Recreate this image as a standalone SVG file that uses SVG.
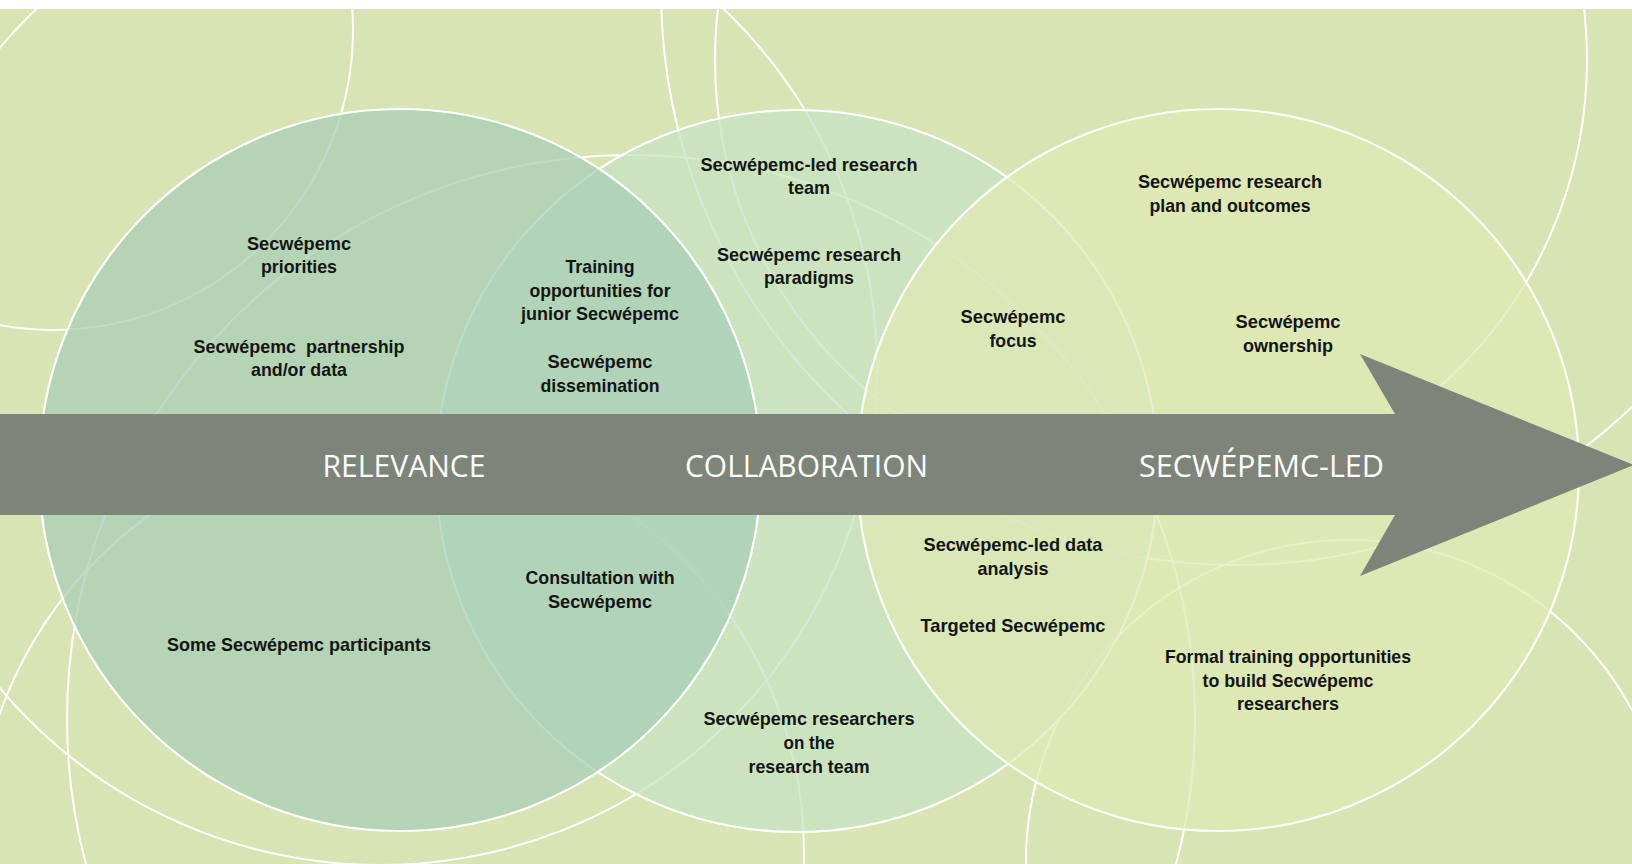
<svg xmlns="http://www.w3.org/2000/svg" width="1632" height="864" viewBox="0 0 1632 864">
<defs>
<style>
.ring{fill:none;stroke:#ffffff;stroke-width:2}
.main{stroke:#ffffff;stroke-width:2.2}
.t{font-family:"Liberation Sans",Arial,sans-serif;font-weight:700;font-size:19px;fill:#141414;text-anchor:middle}
.lab{font-family:"Open Sans","Liberation Sans",sans-serif;font-size:31px;fill:#ffffff;text-anchor:middle}
</style>
</defs>
<rect x="0" y="0" width="1632" height="864" fill="#d8e4b3"/>
<g id="background-rings">
<circle class="ring" cx="53" cy="30" r="300"/>
<circle class="ring" cx="380" cy="368" r="497"/>
<circle class="ring" cx="631" cy="719" r="564"/>
<circle class="ring" cx="390" cy="852" r="414"/>
<circle class="ring" cx="1236" cy="-10" r="575"/>
<circle class="ring" cx="1151" cy="60" r="436"/>
<circle class="ring" cx="1348" cy="862" r="322"/>
</g>
<g id="collaboration">
<circle class="main" cx="797" cy="471" r="361" fill="#c8e3c4" fill-opacity="0.75"/>
</g>
<g id="relevance">
<circle class="main" cx="400" cy="470" r="361" fill="#a8cfb6" fill-opacity="0.75"/>
</g>
<g id="secwepemc-led">
<circle class="main" cx="1218" cy="470" r="361" fill="#dfe9b4" fill-opacity="0.75" stroke-opacity="0.9"/>
</g>
<g id="connectors">
<polygon points="0,414 1395,414 1360,354 1634,465 1360,576 1395,515 0,515" fill="#7e8479"/>
</g>
<g id="stage-labels">
<text class="lab" x="404" y="477" textLength="163" lengthAdjust="spacingAndGlyphs">RELEVANCE</text>
<text class="lab" x="806.5" y="477" textLength="243" lengthAdjust="spacingAndGlyphs">COLLABORATION</text>
<text class="lab" x="1261.5" y="477" textLength="245" lengthAdjust="spacingAndGlyphs">SECWÉPEMC-LED</text>
</g>
<g id="n-priorities"><text class="t" x="299" y="250" textLength="104" lengthAdjust="spacingAndGlyphs">Secwépemc</text><text class="t" x="299" y="273" textLength="76" lengthAdjust="spacingAndGlyphs">priorities</text></g>
<g id="n-partnership"><text class="t" x="299" y="353" style="white-space:pre" textLength="211" lengthAdjust="spacingAndGlyphs">Secwépemc  partnership</text><text class="t" x="299" y="376" textLength="96" lengthAdjust="spacingAndGlyphs">and/or data</text></g>
<g id="n-training"><text class="t" x="600" y="273" textLength="69" lengthAdjust="spacingAndGlyphs">Training</text><text class="t" x="600" y="297" textLength="141" lengthAdjust="spacingAndGlyphs">opportunities for</text><text class="t" x="600" y="320" textLength="158" lengthAdjust="spacingAndGlyphs">junior Secwépemc</text></g>
<g id="n-dissemination"><text class="t" x="600" y="368" textLength="105" lengthAdjust="spacingAndGlyphs">Secwépemc</text><text class="t" x="600" y="392" textLength="119" lengthAdjust="spacingAndGlyphs">dissemination</text></g>
<g id="n-participants"><text class="t" x="299" y="651" textLength="264" lengthAdjust="spacingAndGlyphs">Some Secwépemc participants</text></g>
<g id="n-consultation"><text class="t" x="600" y="584" textLength="149" lengthAdjust="spacingAndGlyphs">Consultation with</text><text class="t" x="600" y="608" textLength="104" lengthAdjust="spacingAndGlyphs">Secwépemc</text></g>
<g id="n-led-team"><text class="t" x="809" y="171" textLength="217" lengthAdjust="spacingAndGlyphs">Secwépemc-led research</text><text class="t" x="809" y="194" textLength="42" lengthAdjust="spacingAndGlyphs">team</text></g>
<g id="n-paradigms"><text class="t" x="809" y="261" textLength="184" lengthAdjust="spacingAndGlyphs">Secwépemc research</text><text class="t" x="809" y="284" textLength="90" lengthAdjust="spacingAndGlyphs">paradigms</text></g>
<g id="n-researchers"><text class="t" x="809" y="725" textLength="211" lengthAdjust="spacingAndGlyphs">Secwépemc researchers</text><text class="t" x="809" y="749" textLength="51" lengthAdjust="spacingAndGlyphs">on the</text><text class="t" x="809" y="773" textLength="121" lengthAdjust="spacingAndGlyphs">research team</text></g>
<g id="n-plan"><text class="t" x="1230" y="188" textLength="184" lengthAdjust="spacingAndGlyphs">Secwépemc research</text><text class="t" x="1230" y="212" textLength="161" lengthAdjust="spacingAndGlyphs">plan and outcomes</text></g>
<g id="n-focus"><text class="t" x="1013" y="323" textLength="105" lengthAdjust="spacingAndGlyphs">Secwépemc</text><text class="t" x="1013" y="347" textLength="47" lengthAdjust="spacingAndGlyphs">focus</text></g>
<g id="n-ownership"><text class="t" x="1288" y="328" textLength="105" lengthAdjust="spacingAndGlyphs">Secwépemc</text><text class="t" x="1288" y="352" textLength="90" lengthAdjust="spacingAndGlyphs">ownership</text></g>
<g id="n-data"><text class="t" x="1013" y="551" textLength="179" lengthAdjust="spacingAndGlyphs">Secwépemc-led data</text><text class="t" x="1013" y="575" textLength="71" lengthAdjust="spacingAndGlyphs">analysis</text></g>
<g id="n-targeted"><text class="t" x="1013" y="632" textLength="185" lengthAdjust="spacingAndGlyphs">Targeted Secwépemc</text></g>
<g id="n-formal"><text class="t" x="1288" y="663" textLength="246" lengthAdjust="spacingAndGlyphs">Formal training opportunities</text><text class="t" x="1288" y="687" textLength="171" lengthAdjust="spacingAndGlyphs">to build Secwépemc</text><text class="t" x="1288" y="710" textLength="102" lengthAdjust="spacingAndGlyphs">researchers</text></g>
<rect x="0" y="0" width="1632" height="9" fill="#ffffff"/>
</svg>
